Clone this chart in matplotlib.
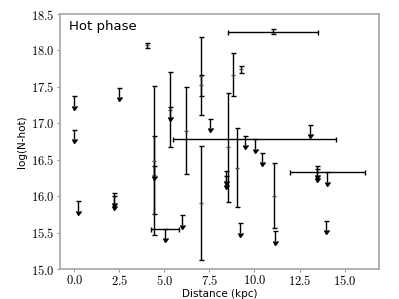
import numpy as np
import matplotlib
matplotlib.use("Agg")
import matplotlib.pyplot as plt
from matplotlib.ticker import FuncFormatter

plt.rcParams['mathtext.fontset'] = 'cm'

# measured columns (x in kpc, y = log N)
det_x = [4.02, 4.43, 4.43, 5.32, 6.20, 7.02, 7.02, 7.02, 8.52, 8.83, 9.02, 9.26, 11.06]
det_y = [18.07, 16.49, 16.29, 17.19, 16.90, 15.91, 17.65, 17.52, 16.67, 17.67, 16.39, 17.74, 16.01]
det_err = [0.03, 1.02, 0.53, 0.52, 0.60, 0.78, 0.54, 0.15, 0.75, 0.30, 0.54, 0.05, 0.44]

# detection with distance uncertainty
wide_x = [11.03]
wide_y = [18.26]
wide_yerr = [0.03]
wide_xerr = [2.52]

# upper limits
lim_x = [0.0, 0.0, 0.2, 2.2, 2.2, 2.5, 4.43, 5.32, 6.0, 7.54, 8.42, 8.42,
         9.2, 9.45, 10.44, 11.15, 13.06, 13.46, 13.46, 13.96]
lim_y = [17.37, 16.91, 15.93, 16.04, 16.0, 17.49, 16.41, 17.22, 15.74, 17.06,
         16.34, 16.28, 15.63, 16.83, 16.6, 15.52, 16.98, 16.42, 16.38, 15.66]

# upper limits with distance uncertainty
wlim_x = [5.04, 10.02, 14.05]
wlim_y = [15.55, 16.78, 16.33]
wlim_xerr = [0.78, 4.52, 2.06]

arrow = 0.13

fig = plt.figure(figsize=(3.99, 2.99), dpi=100)
ax = fig.add_axes([0.150, 0.100, 0.800, 0.853])

style = dict(fmt='none', ecolor='k', elinewidth=1.0, capsize=1.8, capthick=1.0)


def blacken(cont):
    # caret heads otherwise pick up the default colour cycle
    for cl in cont[1]:
        cl.set_markerfacecolor('k')
        cl.set_markeredgecolor('k')


blacken(ax.errorbar(det_x, det_y, yerr=det_err, **style))
ax.plot(det_x, det_y, ls='none', marker='_', ms=3, color='0.3')
blacken(ax.errorbar(wide_x, wide_y, yerr=wide_yerr, xerr=wide_xerr, **style))
blacken(ax.errorbar(lim_x, lim_y, yerr=arrow, uplims=True, **style))
blacken(ax.errorbar(wlim_x, wlim_y, yerr=arrow, xerr=wlim_xerr,
                    uplims=True, **style))

ax.set_ylim(15.0, 18.5)
ax.set_xticks([0, 2.5, 5, 7.5, 10, 12.5, 15])
ax.set_yticks(np.arange(15.0, 18.51, 0.5))
fmt = FuncFormatter(lambda v, p: f'${v:.1f}$')
ax.xaxis.set_major_formatter(fmt)
ax.yaxis.set_major_formatter(fmt)
ax.tick_params(labelsize=9, color='0.6', length=2, width=0.8, pad=1.5)

for s in ax.spines.values():
    s.set_color('0.65')
    s.set_linewidth(1.2)

ax.set_xlabel('Distance (kpc)', fontsize=7.5, labelpad=1)
ax.set_ylabel('log(N-hot)', fontsize=7.5, labelpad=3)
ax.text(0.03, 0.975, 'Hot phase', transform=ax.transAxes, fontsize=9.5,
        va='top', ha='left')

fig.savefig('out.png', dpi=100)
